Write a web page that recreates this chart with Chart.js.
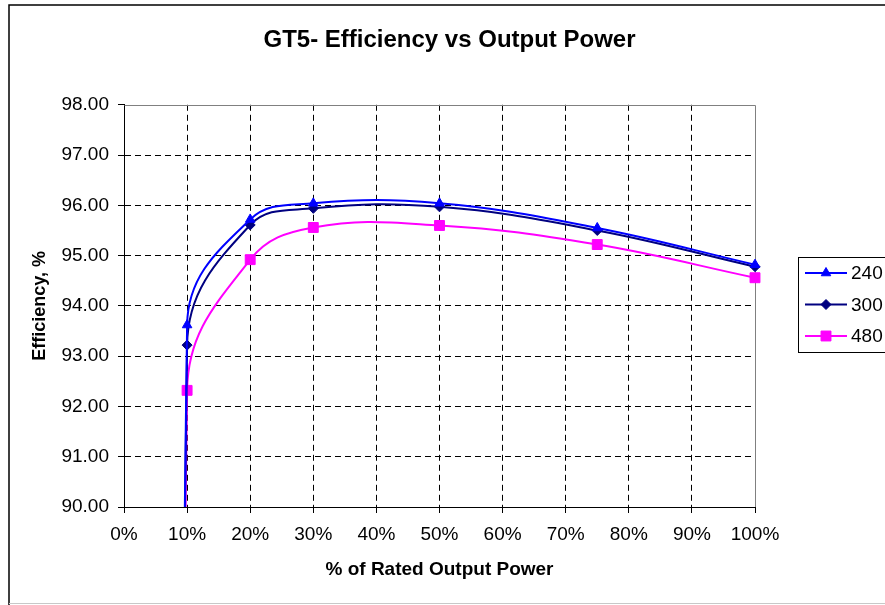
<!DOCTYPE html>
<html>
<head>
<meta charset="utf-8">
<title>GT5- Efficiency vs Output Power</title>
<script src="https://cdn.jsdelivr.net/npm/chart.js@4.4.1/dist/chart.umd.min.js"></script>
<style>
  html, body { margin: 0; padding: 0; background: #fff; }
  canvas { display: block; }
</style>
</head>
<body>
<canvas id="effChart" width="885" height="605"></canvas>
<script>
// % of rated output power (first entry is where each trace starts, far below the axis)
const outputPct = [10, 10, 20, 30, 50, 75, 100];
const eff240 = [0, 93.62, 95.72, 96.04, 96.04, 95.55, 94.82];
const eff300 = [0, 93.22, 95.61, 95.94, 95.97, 95.50, 94.78];
const eff480 = [0, 92.32, 94.92, 95.56, 95.60, 95.22, 94.56];
const seriesNames = ['240', '300', '480'];
const seriesColors = ['#0000FF', '#000080', '#FF00FF'];
const seriesMarkers = ['triangle', 'rectRot', 'rect'];

const FONT = "'Liberation Sans', Arial, sans-serif";

function toPoints(values) {
    return outputPct.map((x, i) => ({ x: x, y: values[i] }));
}

// Excel style legend: framed box, line + marker per entry
function drawLegend(chart, box) {
    const ctx = chart.ctx;
    const area = chart.chartArea;
    const rowH = 31.5;
    const sets = chart.data.datasets;
    const h = Math.round(rowH * sets.length);
    const left = Math.round(box.left + 43);
    const top = Math.round((area.top + area.bottom) / 2 - h / 2 - 1);

    ctx.save();
    ctx.strokeStyle = '#000';
    ctx.lineWidth = 1;
    ctx.strokeRect(left + 0.5, top + 0.5, 120, h);

    sets.forEach((ds, i) => {
        const y = top + 16 + i * rowH;
        ctx.strokeStyle = ds.borderColor;
        ctx.lineWidth = ds.borderWidth;
        ctx.beginPath();
        ctx.moveTo(left + 7, y);
        ctx.lineTo(left + 49, y);
        ctx.stroke();

        ctx.fillStyle = ds.backgroundColor;
        ctx.lineWidth = 1;
        Chart.helpers.drawPoint(ctx, {
            pointStyle: ds.pointStyle,
            radius: ds.pointRadius,
            rotation: 0,
            borderWidth: 1
        }, left + 28, y);

        ctx.fillStyle = '#000';
        ctx.font = '19px ' + FONT;
        ctx.textAlign = 'left';
        ctx.textBaseline = 'middle';
        ctx.fillText(ds.label, left + 53, y + 1);
    });
    ctx.restore();
}

const legendPanel = {
    id: 'legendPanel',
    beforeInit(chart) {
        const box = {
            position: 'right',
            weight: 0,
            fullSize: false,
            options: {},
            isHorizontal() { return false; },
            update(maxWidth, maxHeight) {
                this.width = 130;
                this.height = maxHeight;
            },
            draw() { drawLegend(chart, this); }
        };
        Chart.layouts.addBox(chart, box);
    }
};

// outer frame of the chart object + grey plot area border (top/right)
const frame = {
    id: 'frame',
    beforeDraw(chart) {
        const ctx = chart.ctx;
        ctx.save();
        ctx.fillStyle = '#fff';
        ctx.fillRect(0, 0, chart.width, chart.height);
        ctx.strokeStyle = '#000';
        ctx.lineWidth = 1.5;
        ctx.beginPath();
        ctx.moveTo(9, chart.height);
        ctx.lineTo(9, 5);
        ctx.lineTo(chart.width, 5);
        ctx.stroke();
        ctx.strokeStyle = '#c8c8c8';
        ctx.lineWidth = 1;
        ctx.beginPath();
        ctx.moveTo(9, chart.height - 1.5);
        ctx.lineTo(chart.width, chart.height - 1.5);
        ctx.stroke();
        ctx.restore();
    },
    beforeDatasetsDraw(chart) {
        const a = chart.chartArea;
        const ctx = chart.ctx;
        ctx.save();
        ctx.strokeStyle = '#808080';
        ctx.lineWidth = 1;
        ctx.beginPath();
        ctx.moveTo(Math.round(a.left) + 0.5, Math.round(a.top) + 0.5);
        ctx.lineTo(Math.round(a.right) + 0.5, Math.round(a.top) + 0.5);
        ctx.lineTo(Math.round(a.right) + 0.5, Math.round(a.bottom));
        ctx.stroke();
        ctx.restore();
    }
};

function makeSet(i, values, radius) {
    return {
        label: seriesNames[i],
        data: toPoints(values),
        borderColor: seriesColors[i],
        backgroundColor: seriesColors[i],
        borderWidth: 2,
        pointStyle: seriesMarkers[i],
        pointRadius: radius,
        pointBorderWidth: 1,
        tension: 0.4,
        capBezierPoints: false,
        clip: { left: 0, top: 10, right: 10, bottom: 0 }
    };
}

const ctx = document.getElementById('effChart').getContext('2d');
new Chart(ctx, {
    type: 'line',
    data: {
        datasets: [
            makeSet(0, eff240, 5.5),
            makeSet(1, eff300, 5),
            makeSet(2, eff480, 7)
        ]
    },
    options: {
        responsive: false,
        animation: false,
        layout: { padding: { left: 14, right: 0, top: 0, bottom: 0 } },
        plugins: {
            legend: { display: false },
            tooltip: { enabled: false },
            title: {
                display: true,
                text: 'GT5- Efficiency vs Output Power',
                color: '#000',
                font: { family: FONT, size: 24, weight: 'bold' },
                padding: { top: 26, bottom: 50 }
            }
        },
        scales: {
            x: {
                type: 'linear',
                min: 0,
                max: 100,
                afterFit(scale) { scale.height = 98; },
                ticks: {
                    stepSize: 10,
                    color: '#000',
                    padding: 10,
                    font: { family: FONT, size: 19 },
                    callback: v => v + '%'
                },
                grid: {
                    color: c => (c.tick && (c.tick.value === 0 || c.tick.value === 100)) ? 'rgba(0,0,0,0)' : '#000',
                    tickColor: '#000',
                    tickLength: 6,
                    tickBorderDash: []
                },
                border: { color: '#000', width: 1, dash: [6, 4] },
                title: {
                    display: true,
                    text: '% of Rated Output Power',
                    color: '#000',
                    font: { family: FONT, size: 19, weight: 'bold' },
                    padding: { top: 0, bottom: 24 }
                }
            },
            y: {
                min: 90,
                max: 98,
                afterFit(scale) { scale.width = 110; },
                ticks: {
                    stepSize: 1,
                    color: '#000',
                    padding: 9,
                    font: { family: FONT, size: 19 },
                    callback: v => v.toFixed(2)
                },
                grid: {
                    color: c => (c.tick && (c.tick.value === 90 || c.tick.value === 98)) ? 'rgba(0,0,0,0)' : '#000',
                    tickColor: '#000',
                    tickLength: 6,
                    tickBorderDash: []
                },
                border: { color: '#000', width: 1, dash: [6, 4] },
                title: {
                    display: true,
                    text: 'Efficiency, %',
                    color: '#000',
                    font: { family: FONT, size: 18, weight: 'bold' },
                    padding: { top: 15, bottom: 0 }
                }
            }
        }
    },
    plugins: [frame, legendPanel]
});
</script>
</body>
</html>
